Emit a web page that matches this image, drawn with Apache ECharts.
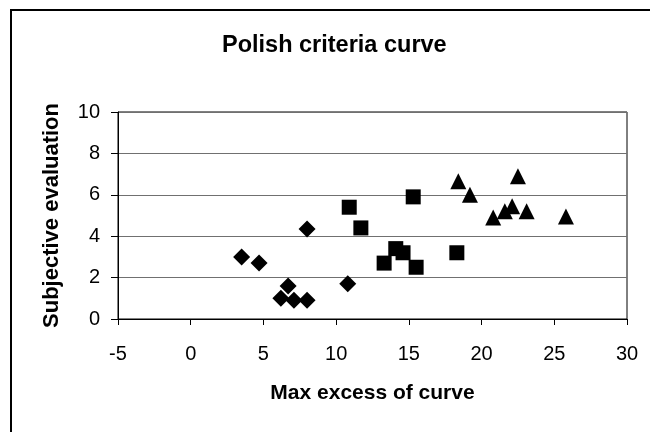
<!DOCTYPE html>
<html>
<head>
<meta charset="utf-8">
<script src="https://cdn.jsdelivr.net/npm/echarts@6/dist/echarts.min.js"></script>
<style>
html,body{margin:0;padding:0;background:#fff;}
#chart{width:650px;height:432px;}
</style>
</head>
<body>
<div id="chart"></div>
<script>
var titleText = 'Polish criteria curve';
var xAxisTitle = 'Max excess of curve';
var yAxisTitle = 'Subjective evaluation';

var diamondX = [3.5, 4.7, 8.0, 6.7, 6.2, 7.1, 8.0, 10.8];
var diamondY = [3.0, 2.7, 4.35, 1.6, 1.0, 0.9, 0.9, 1.7];
var squareX = [10.9, 11.7, 15.3, 14.1, 14.6, 13.3, 15.5, 18.3];
var squareY = [5.4, 4.4, 5.9, 3.4, 3.2, 2.7, 2.5, 3.2];
var triangleX = [18.4, 19.2, 22.5, 20.8, 21.6, 22.1, 23.1, 25.8];
var triangleY = [6.65, 6.0, 6.9, 4.9, 5.2, 5.45, 5.2, 4.95];

function pairs(xs, ys) {
  return xs.map(function (x, i) { return [x, ys[i]]; });
}

var font = '"Liberation Sans", Arial, sans-serif';
var chart = echarts.init(document.getElementById('chart'), null, {renderer: 'canvas'});

chart.setOption({
  animation: false,
  backgroundColor: '#ffffff',
  graphic: [{
    type: 'rect',
    shape: {x: 11, y: 10, width: 800, height: 600},
    style: {fill: null, stroke: '#000', lineWidth: 2},
    silent: true
  }],
  title: {
    text: titleText,
    left: 222,
    top: 34,
    padding: 0,
    textStyle: {fontFamily: font, fontSize: 23.5, fontWeight: 'bold', color: '#000'}
  },
  grid: {
    left: 118, right: 23, top: 112, bottom: 113,
    show: true, borderColor: '#000', borderWidth: 1, backgroundColor: 'transparent'
  },
  xAxis: {
    type: 'value', min: -5, max: 30, interval: 5,
    name: xAxisTitle, nameLocation: 'middle', nameGap: 64,
    nameTextStyle: {fontFamily: font, fontSize: 21, fontWeight: 'bold', color: '#000'},
    axisLine: {show: true, onZero: false, lineStyle: {color: '#000', width: 1}},
    axisTick: {show: true, inside: false, length: 6, lineStyle: {color: '#000'}},
    axisLabel: {fontFamily: font, fontSize: 20, color: '#000', margin: 25},
    splitLine: {show: false}
  },
  yAxis: {
    type: 'value', min: 0, max: 10, interval: 2,
    name: yAxisTitle, nameLocation: 'middle', nameGap: 55,
    nameTextStyle: {fontFamily: font, fontSize: 22, fontWeight: 'bold', color: '#000'},
    axisLine: {show: true, onZero: false, lineStyle: {color: '#000', width: 1}},
    axisTick: {show: true, inside: false, length: 7, lineStyle: {color: '#000'}},
    axisLabel: {fontFamily: font, fontSize: 20, color: '#000', margin: 18},
    splitLine: {show: true, lineStyle: {color: '#707070', width: 1}}
  },
  series: [
    {name: 'Series1', type: 'scatter', symbol: 'diamond', symbolSize: 17,
     itemStyle: {color: '#000', opacity: 1}, data: pairs(diamondX, diamondY)},
    {name: 'Series2', type: 'scatter', symbol: 'rect', symbolSize: 15,
     itemStyle: {color: '#000', opacity: 1}, data: pairs(squareX, squareY)},
    {name: 'Series3', type: 'scatter', symbol: 'triangle', symbolSize: 16,
     itemStyle: {color: '#000', opacity: 1}, data: pairs(triangleX, triangleY)}
  ]
});
</script>
</body>
</html>
